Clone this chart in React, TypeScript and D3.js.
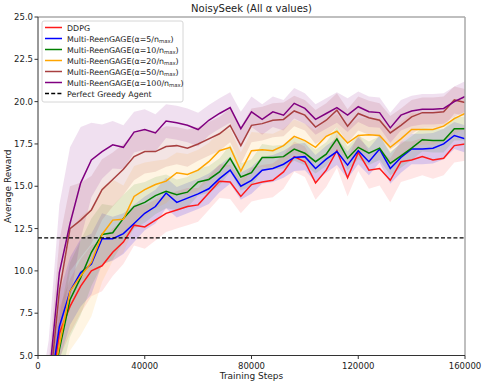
import React from "react";
import * as d3 from "d3";

const steps = d3.range(0, 41).map((i) => i * 4000);

const ddpg = [1.0, 2.0, 6.3, 7.9, 9.1, 10.0, 10.3, 11.1, 11.7, 12.7, 12.6, 13.0, 13.4, 13.6, 13.8, 13.9, 14.6, 15.3, 15.25, 14.4, 15.1, 15.25, 15.35, 15.85, 16.75, 16.45, 15.2, 15.95, 17.1, 15.5, 17.0, 15.95, 16.05, 15.35, 16.45, 16.55, 16.75, 16.55, 16.65, 17.4, 17.5];
const a5 = [1.0, 2.4, 6.7, 8.8, 9.9, 10.4, 11.9, 11.9, 12.2, 12.8, 13.4, 13.8, 14.6, 14.05, 14.3, 14.55, 14.85, 15.45, 15.95, 15.0, 15.35, 15.95, 16.05, 16.3, 16.7, 16.75, 16.05, 16.6, 17.05, 16.25, 17.1, 16.45, 17.2, 16.05, 16.7, 17.2, 17.2, 17.25, 17.5, 18.0, 17.8];
const a10 = [1.0, 1.8, 5.35, 8.3, 9.6, 11.1, 12.15, 12.25, 13.1, 13.8, 14.05, 14.45, 14.7, 14.5, 14.65, 15.25, 15.4, 15.85, 16.65, 15.55, 15.8, 16.7, 16.7, 16.75, 17.2, 16.95, 16.45, 16.9, 17.8, 16.65, 17.3, 16.95, 17.25, 16.35, 16.8, 17.25, 17.75, 17.7, 17.7, 18.4, 18.4];
const a20 = [1.0, 2.0, 5.6, 8.8, 9.7, 10.5, 12.15, 13.0, 13.05, 14.4, 14.8, 15.1, 15.3, 15.8, 15.7, 15.95, 16.45, 17.1, 17.3, 15.9, 17.1, 17.15, 17.1, 17.4, 17.95, 17.7, 17.3, 17.95, 18.25, 17.55, 18.0, 18.05, 18.0, 17.3, 17.8, 18.35, 18.35, 18.35, 18.55, 19.0, 19.3];
const a50 = [1.0, 2.5, 8.8, 12.5, 13.0, 13.6, 14.8, 15.4, 16.0, 16.75, 17.05, 17.05, 17.35, 17.4, 17.25, 17.5, 17.8, 18.1, 18.6, 17.4, 18.6, 18.7, 18.9, 18.95, 19.45, 19.2, 18.5, 18.9, 19.5, 18.55, 19.3, 19.05, 18.9, 18.15, 18.6, 19.1, 19.35, 19.35, 19.4, 20.1, 19.95];
const a100 = [1.0, 3.4, 9.9, 12.8, 15.2, 16.55, 17.05, 17.45, 17.3, 18.2, 18.35, 18.15, 18.85, 18.75, 18.6, 18.35, 18.9, 19.3, 19.65, 18.4, 19.4, 18.95, 19.4, 19.2, 19.9, 19.6, 18.95, 19.3, 19.65, 19.2, 19.7, 19.4, 19.35, 18.45, 19.2, 19.45, 19.55, 19.55, 19.6, 20.0, 20.3];

const ddpgStd = [1, 1.2, 1.5, 1.6, 1.6, 1.5, 1.5, 1.4, 1.3, 1.2, 1.3, 1.2, 1.1, 1.1, 1.1, 1.0, 1.0, 1.0, 1.0, 1.0, 1.0, 1.0, 1.0, 1.0, 0.9, 0.9, 1.0, 1.0, 1.0, 1.1, 1.1, 1.1, 1.0, 1.3, 1.2, 1.1, 1.1, 1.1, 1.0, 1.0, 1.0];
const a5Std = [1, 1.5, 2.0, 2.0, 2.0, 1.8, 1.5, 1.3, 1.2, 1.1, 1.0, 1.0, 0.9, 0.9, 0.9, 0.9, 0.9, 0.8, 0.8, 0.8, 0.8, 0.8, 0.8, 0.8, 0.8, 0.8, 0.8, 0.8, 0.8, 0.8, 0.8, 0.8, 0.8, 0.9, 0.9, 0.9, 0.9, 0.9, 0.9, 0.8, 0.8];
const a10Std = [1, 1.5, 2.0, 2.2, 2.2, 2.0, 1.8, 1.6, 1.4, 1.3, 1.2, 1.1, 1.0, 0.9, 0.9, 0.8, 0.8, 0.8, 0.8, 0.8, 0.8, 0.8, 0.7, 0.7, 0.7, 0.7, 0.7, 0.7, 0.7, 0.7, 0.7, 0.7, 0.7, 0.7, 0.7, 0.7, 0.7, 0.7, 0.7, 0.7, 0.7];
const a20Std = [1, 2, 3.0, 3.5, 3.5, 3.2, 2.8, 2.4, 2.0, 1.8, 1.6, 1.4, 1.3, 1.2, 1.2, 1.2, 1.1, 1.1, 1.1, 1.1, 1.1, 1.0, 1.0, 1.0, 1.0, 1.0, 1.0, 1.0, 1.0, 1.0, 1.0, 1.0, 1.0, 1.0, 1.0, 1.0, 0.9, 0.9, 0.9, 0.9, 0.9];
const a50Std = [1, 2, 3.0, 2.5, 2.2, 2.0, 1.8, 1.6, 1.5, 1.4, 1.3, 1.2, 1.2, 1.1, 1.1, 1.0, 1.0, 1.0, 1.0, 1.1, 1.0, 1.0, 1.0, 1.0, 0.9, 0.9, 1.0, 1.0, 1.0, 1.0, 1.0, 1.0, 1.0, 1.0, 1.0, 1.0, 0.9, 0.9, 0.9, 0.8, 0.8];
const a100Std = [1, 2.5, 4.0, 4.5, 3.3, 2.2, 1.6, 1.4, 1.3, 1.2, 1.2, 1.1, 1.0, 1.0, 1.0, 1.0, 0.9, 0.9, 0.9, 1.0, 0.9, 0.9, 0.9, 0.9, 0.9, 0.9, 0.9, 0.9, 0.9, 1.0, 0.9, 0.9, 0.9, 0.9, 0.9, 0.9, 0.9, 0.9, 0.9, 0.9, 0.9];

const greedyValue = 11.95;

const seriesNames = ["DDPG", "5", "10", "20", "50", "100"];
const seriesColors = ["#ff1a1a", "#0000ff", "#008000", "#ffa500", "#a84040", "#800080"];
const seriesMeans = [ddpg, a5, a10, a20, a50, a100];
const seriesStds = [ddpgStd, a5Std, a10Std, a20Std, a50Std, a100Std];
const bandOpacity = [0.11, 0.14, 0.11, 0.11, 0.14, 0.12];

const xTicks = [0, 40000, 80000, 120000, 160000];
const yTicks = [5.0, 7.5, 10.0, 12.5, 15.0, 17.5, 20.0, 22.5, 25.0];

const W = 485, H = 385;
const L = 38, R = 465, T = 17, B = 355.5;

export default function App() {
  const x = d3.scaleLinear().domain([0, 160000]).range([L, R]);
  const y = d3.scaleLinear().domain([5, 25]).range([B, T]);
  const line = d3.line<number>().x((_, i) => x(steps[i])).y((d) => y(d));
  const font = "'DejaVu Sans', sans-serif";

  const bands = seriesMeans.map((m, s) =>
    d3
      .area<number>()
      .x((_, i) => x(steps[i]))
      .y0((d, i) => y(d - seriesStds[s][i]))
      .y1((d, i) => y(d + seriesStds[s][i]))(m)
  );

  const legendItems = seriesNames.map((n, i) => ({ n, c: seriesColors[i] }));
  const lfs = 7.9;

  return (
    <svg width={W} height={H} style={{ position: "absolute", left: 0, top: 0, background: "#fff" }} fontFamily={font}>
      <defs>
        <clipPath id="plotclip">
          <rect x={L} y={T} width={R - L} height={B - T} />
        </clipPath>
      </defs>
      <rect width={W} height={H} fill="#fff" />
      <g clipPath="url(#plotclip)">
        {bands.map((p, s) => (
          <path key={"b" + s} d={p || ""} fill={seriesColors[s]} fillOpacity={bandOpacity[s]} stroke="none" />
        ))}
        {seriesMeans.map((m, s) => (
          <path key={"l" + s} d={line(m) || ""} fill="none" stroke={seriesColors[s]} strokeWidth={1.5} />
        ))}
        <line x1={L} x2={R} y1={y(greedyValue)} y2={y(greedyValue)} stroke="#000" strokeWidth={1.3} strokeDasharray="4,2.2" />
      </g>
      {/* spines */}
      <line x1={L} x2={R} y1={T} y2={T} stroke="#aaa" strokeWidth={1.5} />
      <line x1={R} x2={R} y1={T} y2={B} stroke="#aaa" strokeWidth={1.5} />
      <line x1={L} x2={L} y1={T} y2={B} stroke="#333" strokeWidth={1} />
      <line x1={L} x2={R} y1={B} y2={B} stroke="#333" strokeWidth={1} />
      {/* ticks */}
      {xTicks.map((t) => (
        <g key={"x" + t}>
          <line x1={x(t)} x2={x(t)} y1={B} y2={B + 3.5} stroke="#333" />
          <text x={x(t)} y={B + 13} fontSize={8.5} textAnchor="middle" fill="#222">{t}</text>
        </g>
      ))}
      {yTicks.map((t) => (
        <g key={"y" + t}>
          <line x1={L - 3.5} x2={L} y1={y(t)} y2={y(t)} stroke="#333" />
          <text x={L - 5} y={y(t) + 3} fontSize={8.5} textAnchor="end" fill="#222">{t.toFixed(1)}</text>
        </g>
      ))}
      <text x={(L + R) / 2} y={379} fontSize={9} textAnchor="middle" fill="#222">Training Steps</text>
      <text transform={`translate(11,${(T + B) / 2}) rotate(-90)`} fontSize={9} textAnchor="middle" fill="#222">Average Reward</text>
      <text x={(L + R) / 2} y={12} fontSize={10} textAnchor="middle" fill="#222">NoisySeek (All α values)</text>
      {/* legend */}
      <g>
        <rect x={42} y={21} width={141} height={81} rx={2} fill="#fff" fillOpacity={0.85} stroke="#ccc" strokeWidth={0.8} />
        {legendItems.map((it, i) => {
          const ly = 27.5 + i * 11;
          return (
            <g key={"lg" + i}>
              <line x1={45} x2={62} y1={ly} y2={ly} stroke={it.c} strokeWidth={1.5} />
              {it.n === "DDPG" ? (
                <text x={67} y={ly + 3} fontSize={lfs} fill="#222">DDPG</text>
              ) : (
                <text x={67} y={ly + 3} fontSize={lfs} fill="#222">
                  {`Multi-ReenGAGE(α=${it.n}/n`}
                  <tspan fontSize={5.3} dy={1.5}>max</tspan>
                  <tspan dy={-1.5}>)</tspan>
                </text>
              )}
            </g>
          );
        })}
        <line x1={45} x2={62} y1={27.5 + 6 * 11} y2={27.5 + 6 * 11} stroke="#000" strokeWidth={1.3} strokeDasharray="4,2.2" />
        <text x={67} y={27.5 + 6 * 11 + 3} fontSize={lfs} fill="#222">Perfect Greedy Agent</text>
      </g>
    </svg>
  );
}
